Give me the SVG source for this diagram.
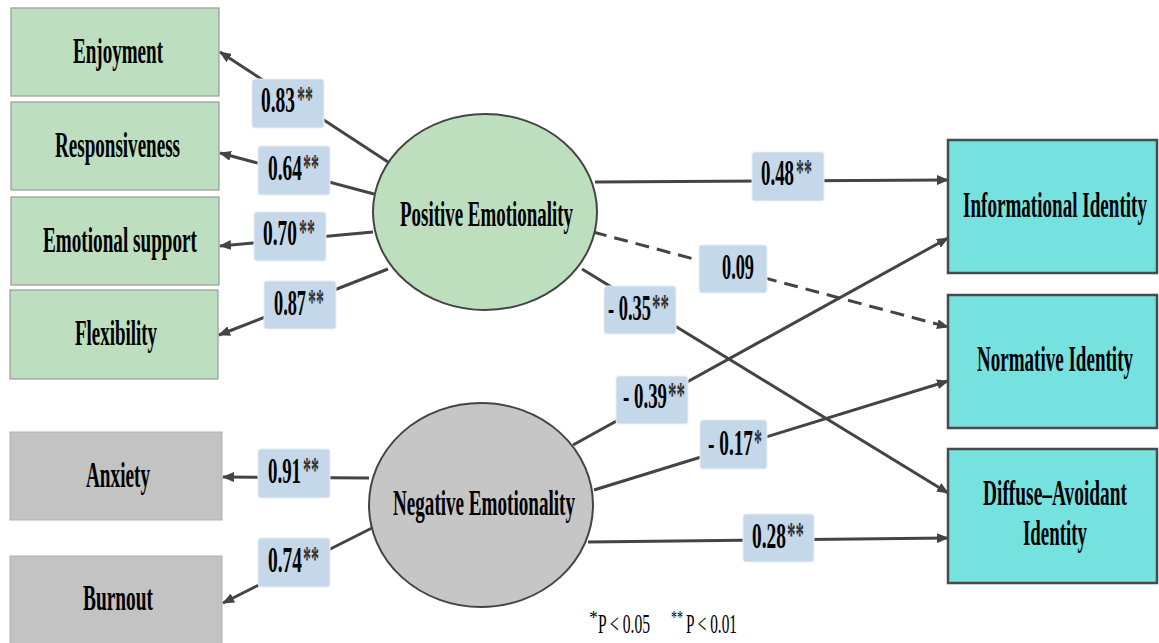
<svg xmlns="http://www.w3.org/2000/svg" width="1159" height="643" viewBox="0 0 1159 643">
<defs>
<marker id="arr" markerUnits="userSpaceOnUse" markerWidth="12" markerHeight="10" refX="11" refY="5" orient="auto">
<path d="M0,0 L12,5 L0,10 z" fill="#444"/>
</marker>
<style>
.ln{stroke:#444;stroke-width:3;fill:none;marker-end:url(#arr)}
.dash{stroke-dasharray:14 8}
.gbox{fill:#BDDEBF;stroke:#9a9a9a;stroke-width:1.2}
.gray{fill:#C3C3C3;stroke:#b0b0b0;stroke-width:1}
.cyan{fill:#76E2E0;stroke:#4a4a4a;stroke-width:2.5}
.ell{stroke:#444;stroke-width:2}
.lab{fill:#C5D8E9;stroke:#e8eef5;stroke-width:1}
.t{font-family:"Liberation Serif",serif;font-weight:bold;font-size:35px;fill:#000}
.st{font-family:"Liberation Serif",serif;font-weight:bold;font-size:36px;fill:#333}
.fn{font-family:"Liberation Serif",serif;font-size:28px;fill:#000}
.fs{font-family:"Liberation Serif",serif;font-size:18px;fill:#000}
</style>
</defs>
<rect width="1159" height="643" fill="#fff"/>

<g id="connectors">
<line class="ln" x1="388" y1="162" x2="220" y2="52"/>
<line class="ln" x1="374" y1="194" x2="220" y2="153"/>
<line class="ln" x1="373" y1="232" x2="220" y2="246"/>
<line class="ln" x1="388" y1="269" x2="219" y2="335"/>
<line class="ln" x1="369" y1="478" x2="223" y2="477"/>
<line class="ln" x1="372" y1="528" x2="223" y2="603"/>
<line class="ln" x1="595" y1="182" x2="948" y2="180"/>
<line class="ln dash" x1="593" y1="232" x2="948" y2="327"/>
<line class="ln" x1="582" y1="269" x2="948" y2="493"/>
<line class="ln" x1="573" y1="445" x2="948" y2="238"/>
<line class="ln" x1="594" y1="490" x2="948" y2="381"/>
<line class="ln" x1="588" y1="542" x2="948" y2="538"/>
</g>

<g id="enjoyment"><rect class="gbox" x="11" y="8" width="208" height="88"/><text class="t" x="73" y="63" textLength="90" lengthAdjust="spacingAndGlyphs">Enjoyment</text></g>
<g id="responsiveness"><rect class="gbox" x="11" y="102" width="208" height="88"/><text class="t" x="55" y="157" textLength="125" lengthAdjust="spacingAndGlyphs">Responsiveness</text></g>
<g id="emotional-support"><rect class="gbox" x="11" y="197" width="208" height="88"/><text class="t" x="43" y="252" textLength="154" lengthAdjust="spacingAndGlyphs">Emotional support</text></g>
<g id="flexibility"><rect class="gbox" x="10" y="290" width="208" height="89"/><text class="t" x="75" y="345" textLength="82" lengthAdjust="spacingAndGlyphs">Flexibility</text></g>
<g id="anxiety"><rect class="gray" x="10" y="432" width="212" height="88"/><text class="t" x="86" y="487" textLength="64" lengthAdjust="spacingAndGlyphs">Anxiety</text></g>
<g id="burnout"><rect class="gray" x="10" y="556" width="212" height="95"/><text class="t" x="83" y="610" textLength="70" lengthAdjust="spacingAndGlyphs">Burnout</text></g>

<g id="positive-emotionality"><ellipse class="ell" cx="485" cy="212" rx="112" ry="98" fill="#BDDFBE"/><text class="t" x="400" y="226" textLength="173" lengthAdjust="spacingAndGlyphs">Positive Emotionality</text></g>
<g id="negative-emotionality"><ellipse class="ell" cx="481" cy="505" rx="112" ry="102" fill="#C6C6C6"/><text class="t" x="393" y="515" textLength="182" lengthAdjust="spacingAndGlyphs">Negative Emotionality</text></g>

<g id="informational-identity"><rect class="cyan" x="948" y="140" width="209" height="133"/><text class="t" x="963" y="217" textLength="184" lengthAdjust="spacingAndGlyphs">Informational Identity</text></g>
<g id="normative-identity"><rect class="cyan" x="948" y="295" width="209" height="133"/><text class="t" x="977" y="371" textLength="156" lengthAdjust="spacingAndGlyphs">Normative Identity</text></g>
<g id="diffuse-avoidant-identity"><rect class="cyan" x="948" y="449" width="209" height="134"/><text class="t" x="983" y="505" textLength="144" lengthAdjust="spacingAndGlyphs">Diffuse–Avoidant</text><text class="t" x="1023" y="545" textLength="64" lengthAdjust="spacingAndGlyphs">Identity</text></g>

<g id="labels">
<rect class="lab" x="252" y="79" width="72" height="49" rx="3"/>
<text class="t" x="261" y="112" textLength="34" lengthAdjust="spacingAndGlyphs">0.83</text><text class="st" x="297" y="111" textLength="16" lengthAdjust="spacingAndGlyphs">**</text>
<rect class="lab" x="258" y="146" width="72" height="49" rx="3"/>
<text class="t" x="268" y="180" textLength="34" lengthAdjust="spacingAndGlyphs">0.64</text><text class="st" x="303" y="179" textLength="16" lengthAdjust="spacingAndGlyphs">**</text>
<rect class="lab" x="254" y="212" width="72" height="49" rx="3"/>
<text class="t" x="263" y="245" textLength="34" lengthAdjust="spacingAndGlyphs">0.70</text><text class="st" x="299" y="244" textLength="16" lengthAdjust="spacingAndGlyphs">**</text>
<rect class="lab" x="264" y="281" width="72" height="48" rx="3"/>
<text class="t" x="274" y="315" textLength="32" lengthAdjust="spacingAndGlyphs">0.87</text><text class="st" x="308" y="314" textLength="16" lengthAdjust="spacingAndGlyphs">**</text>
<rect class="lab" x="258" y="449" width="72" height="49" rx="3"/>
<text class="t" x="268" y="483" textLength="33" lengthAdjust="spacingAndGlyphs">0.91</text><text class="st" x="303" y="482" textLength="16" lengthAdjust="spacingAndGlyphs">**</text>
<rect class="lab" x="258" y="538" width="72" height="49" rx="3"/>
<text class="t" x="268" y="572" textLength="34" lengthAdjust="spacingAndGlyphs">0.74</text><text class="st" x="303" y="571" textLength="16" lengthAdjust="spacingAndGlyphs">**</text>
<rect class="lab" x="752" y="152" width="72" height="49" rx="3"/>
<text class="t" x="761" y="185" textLength="33" lengthAdjust="spacingAndGlyphs">0.48</text><text class="st" x="796" y="184" textLength="16" lengthAdjust="spacingAndGlyphs">**</text>
<rect class="lab" x="699" y="245" width="68" height="48" rx="3"/>
<text class="t" x="722" y="279" textLength="32" lengthAdjust="spacingAndGlyphs">0.09</text>
<rect class="lab" x="604" y="286" width="72" height="48" rx="3"/>
<text class="t" x="608" y="320" textLength="43" lengthAdjust="spacingAndGlyphs">- 0.35</text><text class="st" x="652" y="319" textLength="17" lengthAdjust="spacingAndGlyphs">**</text>
<rect class="lab" x="616" y="376" width="72" height="48" rx="3"/>
<text class="t" x="623" y="408" textLength="44" lengthAdjust="spacingAndGlyphs">- 0.39</text><text class="st" x="668" y="407" textLength="17" lengthAdjust="spacingAndGlyphs">**</text>
<rect class="lab" x="700" y="420" width="67" height="49" rx="3"/>
<text class="t" x="708" y="455" textLength="45" lengthAdjust="spacingAndGlyphs">- 0.17</text><text class="st" x="754" y="454" textLength="8" lengthAdjust="spacingAndGlyphs">*</text>
<rect class="lab" x="743" y="514" width="71" height="48" rx="3"/>
<text class="t" x="752" y="548" textLength="34" lengthAdjust="spacingAndGlyphs">0.28</text><text class="st" x="787" y="547" textLength="17" lengthAdjust="spacingAndGlyphs">**</text>
</g>

<g id="footnote">
<text class="fs" x="589" y="624">*</text>
<text class="fn" x="598" y="633" textLength="52" lengthAdjust="spacingAndGlyphs">P &lt; 0.05</text>
<text class="fs" x="671" y="624" textLength="12" lengthAdjust="spacingAndGlyphs">**</text>
<text class="fn" x="686" y="633" textLength="51" lengthAdjust="spacingAndGlyphs">P &lt; 0.01</text>
</g>
</svg>
